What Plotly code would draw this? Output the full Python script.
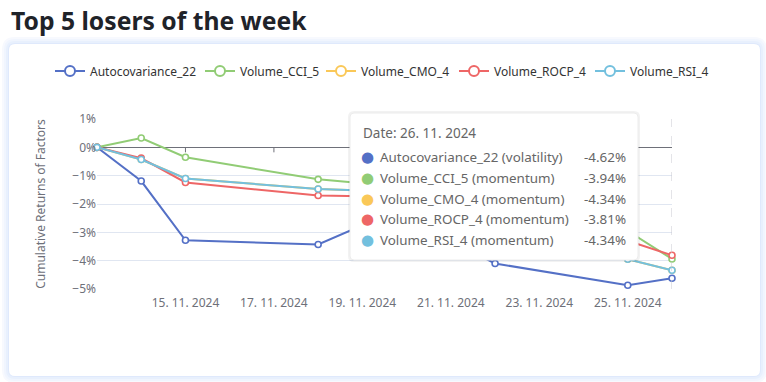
import plotly.graph_objects as go

dates = ["2024-11-13", "2024-11-14", "2024-11-15", "2024-11-18", "2024-11-19",
         "2024-11-20", "2024-11-21", "2024-11-22", "2024-11-25", "2024-11-26"]
tick_dates = ["2024-11-15", "2024-11-17", "2024-11-19", "2024-11-21", "2024-11-23", "2024-11-25"]

names = ["Autocovariance_22", "Volume_CCI_5", "Volume_CMO_4", "Volume_ROCP_4", "Volume_RSI_4"]
categories = ["volatility", "momentum", "momentum", "momentum", "momentum"]
colors = ["#5470c6", "#91cc75", "#fac858", "#ee6666", "#73c0de"]

autocov_22 = [0, -1.19, -3.28, -3.43, -2.75, -3.0, -3.3, -4.10, -4.87, -4.62]
volume_cci_5 = [0, 0.33, -0.35, -1.13, -1.27, -1.6, -2.0, -2.4, -2.95, -3.94]
volume_cmo_4 = [0, -0.43, -1.10, -1.47, -1.52, -1.9, -2.5, -3.1, -3.95, -4.34]
volume_rocp_4 = [0, -0.38, -1.24, -1.70, -1.73, -2.1, -2.5, -2.85, -3.3, -3.81]
volume_rsi_4 = [0, -0.43, -1.10, -1.47, -1.52, -1.9, -2.5, -3.1, -3.95, -4.34]
series = [autocov_22, volume_cci_5, volume_cmo_4, volume_rocp_4, volume_rsi_4]

W, H = 766, 382
L, R, T, B = 97, 672, 119, 289  # plot area in pixels
legend_text_x = [90, 240, 361, 494, 630]  # pixel x where each legend label starts


def px(x):
    return (x - L) / (R - L)


def py(y):
    return (B - y) / (B - T)


def rounded_rect(x0, y0, x1, y1, r):
    # pixel offsets relative to plot-area bottom-left, y upwards
    a0, a1 = x0 - L, x1 - L
    b0, b1 = B - y1, B - y0  # bottom, top
    return (f"M{a0 + r},{b0} L{a1 - r},{b0} Q{a1},{b0} {a1},{b0 + r} "
            f"L{a1},{b1 - r} Q{a1},{b1} {a1 - r},{b1} L{a0 + r},{b1} "
            f"Q{a0},{b1} {a0},{b1 - r} L{a0},{b0 + r} Q{a0},{b0} {a0 + r},{b0} Z")


FONT = "Noto Sans"
fig = go.Figure()
legend_layouts = {}
for i, (name, vals, col) in enumerate(zip(names, series, colors)):
    lg = "legend" if i == 0 else f"legend{i + 1}"
    fig.add_trace(go.Scatter(
        x=dates, y=vals, name=name, mode="lines+markers",
        line=dict(color=col, width=2),
        marker=dict(symbol="circle", size=6, color="white", line=dict(color=col, width=1.6)),
        cliponaxis=False, showlegend=False, legendgroup=name,
    ))
    # legend-only entry with the larger legend icon
    fig.add_trace(go.Scatter(
        x=[None], y=[None], name=name, mode="lines+markers",
        line=dict(color=col, width=2),
        marker=dict(symbol="circle", size=10, color="white", line=dict(color=col, width=2)),
        showlegend=True, legend=lg, legendgroup=name, hoverinfo="skip",
    ))
    legend_layouts[lg] = dict(
        orientation="h", x=px(legend_text_x[i] - 40), xanchor="left", y=py(71), yanchor="middle",
        font=dict(family=FONT, size=12, color="#333"), bgcolor="rgba(0,0,0,0)",
        itemwidth=30, borderwidth=0)

shapes = []
# card with soft glow
for off, fill in [(7, "#f7f9fe"), (5, "#f0f5fe"), (3, "#e8f0fd"), (1, "#dfe9fc")]:
    shapes.append(dict(type="path", xref="paper", yref="paper", layer="below",
                       xsizemode="pixel", ysizemode="pixel", xanchor=0, yanchor=0,
                       path=rounded_rect(9 - off, 44 - off, 760 + off, 376 + off, 6 + off),
                       line=dict(width=0), fillcolor=fill))
shapes.append(dict(type="path", xref="paper", yref="paper", layer="below",
                   xsizemode="pixel", ysizemode="pixel", xanchor=0, yanchor=0,
                   path=rounded_rect(9, 44, 760, 376, 6),
                   line=dict(width=0), fillcolor="white"))
# axis ticks on zero line
for d in tick_dates:
    shapes.append(dict(type="line", xref="x", yref="y", x0=d, x1=d,
                       ysizemode="pixel", yanchor=0, y0=0, y1=-5,
                       line=dict(color="#6E7079", width=1)))
# axis pointer
shapes.append(dict(type="line", xref="x", yref="paper", x0=dates[-1], x1=dates[-1],
                   y0=0, y1=1, line=dict(color="#c8c8d0", width=1, dash="dash")))
# tooltip box
shapes.append(dict(type="path", xref="paper", yref="paper", layer="above",
                   xsizemode="pixel", ysizemode="pixel", xanchor=0, yanchor=0,
                   path=rounded_rect(348, 111, 640, 262, 6),
                   line=dict(width=0), fillcolor="rgba(0,0,0,0.05)"))
shapes.append(dict(type="path", xref="paper", yref="paper", layer="above",
                   xsizemode="pixel", ysizemode="pixel", xanchor=0, yanchor=0,
                   path=rounded_rect(350, 113, 638, 260, 4),
                   line=dict(color="#ececec", width=1), fillcolor="white"))

annotations = []
annotations.append(dict(text="<b>Top 5 losers of the week</b>", xref="paper", yref="paper",
                        x=px(9), y=py(20), xanchor="left", yanchor="middle", showarrow=False,
                        font=dict(family=FONT, size=24.7, color="#1f2329")))
annotations.append(dict(text="Date: " + "26. 11. 2024", xref="paper", yref="paper",
                        x=px(361), y=py(133), xanchor="left", yanchor="middle", showarrow=False,
                        font=dict(family=FONT, size=13.5, color="#666")))
for i, (name, cat, vals, col) in enumerate(zip(names, categories, series, colors)):
    yy = py(157 + i * 20.8)
    annotations.append(dict(text="●", xref="paper", yref="paper", x=px(367), y=yy,
                            xanchor="center", yanchor="middle", showarrow=False,
                            font=dict(family="DejaVu Sans", size=15, color=col)))
    annotations.append(dict(text=f"{name} ({cat})", xref="paper", yref="paper", x=px(378), y=yy,
                            xanchor="left", yanchor="middle", showarrow=False,
                            font=dict(family=FONT, size=13.4, color="#666")))
    annotations.append(dict(text=f"{vals[-1]:.2f}%", xref="paper", yref="paper", x=px(628), y=yy,
                            xanchor="right", yanchor="middle", showarrow=False,
                            font=dict(family=FONT, size=13.4, color="#666")))

fig.update_layout(
    width=W, height=H, autosize=False,
    margin=dict(l=L, r=W - R, t=T, b=H - B, pad=0),
    paper_bgcolor="white", plot_bgcolor="white",
    font=dict(family=FONT, size=12, color="#6E7079"),
    showlegend=True,
    xaxis=dict(type="date", range=[dates[0], dates[-1]], tickvals=tick_dates,
               tickformat="%d. %m. %Y", showgrid=False, zeroline=False, showline=False,
               ticks="", ticklabelstandoff=5,
               tickfont=dict(family=FONT, size=12, color="#6E7079")),
    yaxis=dict(range=[-5, 1], dtick=1, ticksuffix="%", showgrid=True, gridcolor="#E0E6F1",
               zeroline=True, zerolinecolor="#6E7079", zerolinewidth=1, showline=False,
               ticks="", tickfont=dict(family=FONT, size=12, color="#6E7079"),
               title=dict(text="Cumulative Returns of Factors", standoff=24,
                          font=dict(family=FONT, size=12, color="#6E7079"))),
    shapes=shapes, annotations=annotations,
    **legend_layouts,
)
fig.write_html("out.html", config={"displayModeBar": False},
               post_script="document.body.style.margin='0';document.body.style.padding='0';")
